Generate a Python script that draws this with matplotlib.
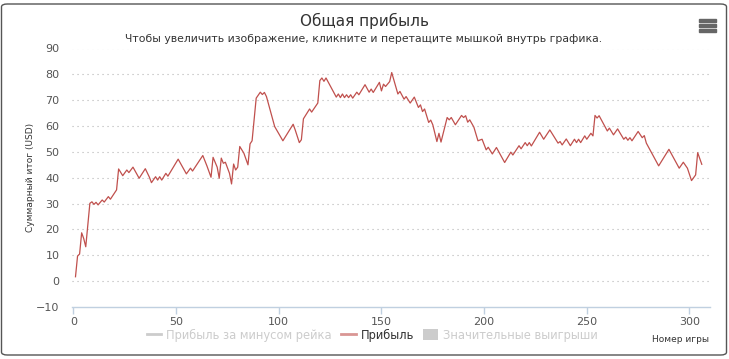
"""
Общая прибыль по номеру игры (воссоздание графика)
"""
import matplotlib
matplotlib.use('Agg')
import matplotlib.pyplot as plt
from matplotlib.lines import Line2D
from matplotlib.patches import FancyBboxPatch, Rectangle

# данные (номер игры -> суммарный итог)
games = [1, 2, 3, 4, 5, 6, 8, 9, 10, 11, 12, 14, 15, 17, 18, 21, 22, 24, 26, 27,
         29, 32, 35, 37, 38, 40, 41, 42, 43, 45, 46, 51, 55, 57, 58, 63, 65, 67, 68, 70,
         71, 72, 73, 74, 76, 77, 78, 79, 80, 81, 83, 85, 86, 87, 89, 91, 92, 93, 94, 98,
         102, 107, 108, 110, 111, 112, 115, 116, 119, 120, 121, 122, 123, 128, 129, 130, 131, 132, 133, 134,
         135, 136, 138, 139, 142, 144, 145, 146, 149, 150, 151, 152, 154, 155, 158, 159, 161, 162, 164, 166,
         168, 169, 170, 171, 173, 174, 175, 177, 178, 179, 182, 183, 184, 186, 189, 190, 191, 192, 193, 195,
         197, 199, 201, 202, 204, 206, 210, 213, 214, 217, 218, 220, 221, 222, 223, 227, 229, 232, 236, 237,
         238, 240, 242, 244, 245, 246, 247, 249, 250, 252, 253, 254, 255, 256, 260, 261, 263, 265, 268, 269,
         270, 271, 272, 275, 277, 278, 279, 285, 290, 295, 297, 299, 301, 303, 304, 306]
profit = [1.7, 9.7, 10.5, 18.7, 16.5, 13.3, 30.1, 30.7, 29.7, 30.5, 29.5, 31.4, 30.6, 32.7, 31.7, 35.3, 43.4, 40.8, 43.0, 42.0,
          44.1, 39.8, 43.5, 40.2, 38.1, 40.4, 39.1, 40.4, 39.1, 41.7, 40.6, 47.2, 41.5, 43.7, 42.6, 48.6, 44.6, 40.2, 47.9, 44.1,
          39.8, 47.6, 45.6, 46.0, 41.7, 37.6, 45.3, 43.0, 44.1, 52.1, 49.5, 45.0, 53.1, 54.3, 70.8, 73.1, 72.2, 73.0, 71.4, 59.8,
          54.3, 60.7, 58.5, 53.6, 54.7, 62.8, 66.6, 65.4, 68.9, 77.6, 78.6, 77.3, 78.6, 71.2, 72.4, 71.0, 72.4, 71.0, 72.1, 71.0,
          72.1, 70.8, 73.1, 72.1, 76.0, 73.1, 74.3, 73.0, 76.9, 73.6, 76.2, 75.3, 77.2, 80.7, 72.4, 73.4, 70.4, 71.4, 68.9, 71.2,
          67.2, 68.2, 65.6, 66.6, 61.4, 62.3, 60.5, 54.0, 57.2, 53.8, 63.3, 62.4, 63.3, 60.5, 64.1, 63.3, 64.0, 61.5, 62.4, 59.6,
          54.3, 54.9, 50.8, 51.8, 49.2, 51.7, 45.9, 49.9, 48.8, 52.4, 51.2, 53.6, 52.4, 53.6, 52.3, 57.6, 54.9, 58.5, 53.4, 54.0,
          52.7, 55.0, 52.4, 54.9, 53.6, 54.9, 53.6, 56.2, 54.9, 57.2, 56.2, 64.1, 63.1, 64.0, 58.1, 59.2, 56.6, 58.9, 54.9, 55.7,
          54.5, 55.5, 54.3, 57.9, 55.5, 56.3, 53.4, 44.6, 51.0, 43.7, 46.0, 43.7, 38.9, 41.1, 49.7, 45.2]

y_ticks = list(range(-10, 91, 10))
x_ticks = list(range(0, 301, 50))

W, H = 729, 359
fig = plt.figure(figsize=(W / 100, H / 100), dpi=100)
plt.rcParams['font.family'] = ['DejaVu Sans']

# рамка вокруг графика
fig.patches.append(FancyBboxPatch((1.5 / W, 4 / H), 725 / W, 351 / H,
                                  boxstyle='round,pad=0,rounding_size=0.008',
                                  transform=fig.transFigure, fill=False,
                                  edgecolor='#555555', linewidth=1.0))

ax = fig.add_axes([72 / W, 1 - 307 / H, (710 - 72) / W, (307 - 48.5) / H])
ax.plot(games, profit, color='#c0504d', linewidth=0.9)

ax.set_xlim(-0.7, 310)
ax.set_ylim(-10, 90)
ax.set_yticks(y_ticks)
ax.set_xticks(x_ticks)
for v in y_ticks[1:]:
    ax.axhline(v, color='#b5b5b5', linestyle=(0, (1, 3.5)), linewidth=0.8, zorder=0)

for side in ['top', 'right', 'left']:
    ax.spines[side].set_visible(False)
ax.spines['bottom'].set_color('#c0d0e0')
ax.spines['bottom'].set_linewidth(1.0)
ax.tick_params(axis='y', length=0, pad=9, labelsize=8, labelcolor='#555555')
ax.tick_params(axis='x', length=5, width=1, color='#c0d0e0', pad=2,
               labelsize=8, labelcolor='#555555')

ax.set_ylabel('Суммарный итог (USD)', fontsize=6.5, color='#333333', labelpad=1)
fig.text(680 / W, 1 - 340 / H, 'Номер игры', fontsize=6.5, color='#333333',
         ha='center', va='center')

fig.text(364 / W, 1 - 21 / H, 'Общая прибыль', fontsize=11, color='#333333',
         ha='center', va='center')
fig.text(364 / W, 1 - 39 / H,
         'Чтобы увеличить изображение, кликните и перетащите мышкой внутрь графика.',
         fontsize=7.8, color='#333333', ha='center', va='center')

# иконка меню
for yy in [20, 25, 30]:
    fig.patches.append(Rectangle((699 / W, 1 - (yy + 1.5) / H), 17 / W, 3 / H,
                                 transform=fig.transFigure, color='#666666'))

handles = [Line2D([], [], color='#cccccc', linewidth=2),
           Line2D([], [], color='#c0504d', linewidth=2, alpha=0.6),
           Rectangle((0, 0), 1, 1, facecolor='#cccccc', edgecolor='none')]
labels = ['Прибыль за минусом рейка', 'Прибыль', 'Значительные выигрыши']
leg = fig.legend(handles, labels, loc='center', bbox_to_anchor=(372 / W, 1 - 335 / H),
                 ncol=3, frameon=False, fontsize=8.3, handlelength=1.3,
                 handletextpad=0.4, columnspacing=0.8, handleheight=1.0)
for txt, col in zip(leg.get_texts(), ['#cccccc', '#333333', '#cccccc']):
    txt.set_color(col)

fig.savefig('out.png', dpi=100)
